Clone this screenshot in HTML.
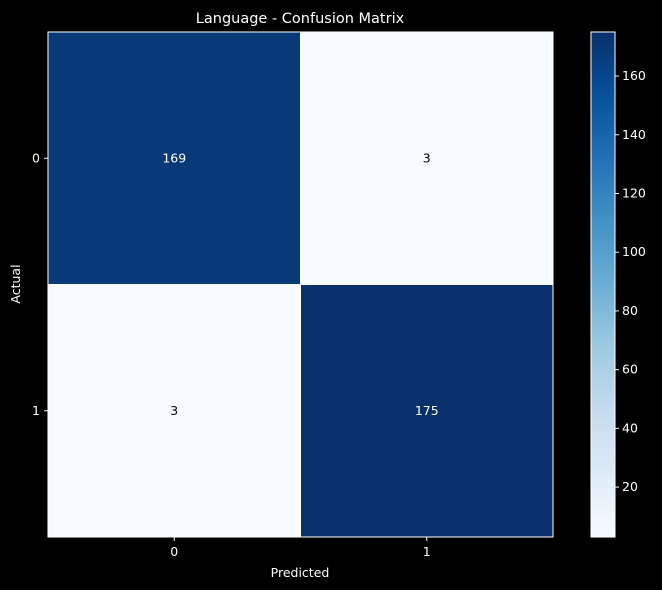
<!DOCTYPE html>
<html><head><meta charset="utf-8"><style>
html,body{margin:0;padding:0;background:#000;overflow:hidden;width:662px;height:590px;}
svg{display:block;}
svg text{font-family:"DejaVu Sans","Liberation Sans",sans-serif;fill:#fff;}
</style></head><body>
<svg id="c" width="662" height="590" xmlns="http://www.w3.org/2000/svg">
<defs><linearGradient id="blues" x1="0" y1="1" x2="0" y2="0">
<stop offset="0" stop-color="#f7fbff"/><stop offset="0.125" stop-color="#deebf7"/><stop offset="0.25" stop-color="#c6dbef"/><stop offset="0.375" stop-color="#9ecae1"/><stop offset="0.5" stop-color="#6baed6"/><stop offset="0.625" stop-color="#4292c6"/><stop offset="0.75" stop-color="#2171b5"/><stop offset="0.875" stop-color="#08519c"/><stop offset="1" stop-color="#08306b"/>
</linearGradient></defs>
<rect width="662" height="590" fill="#000"/>
<text x="300" y="23" font-size="14.5" text-anchor="middle">Language - Confusion Matrix</text>
<g id="cells"></g>
<text x="300" y="577" font-size="12.5" text-anchor="middle">Predicted</text>
<text x="20" y="284" font-size="12.5" text-anchor="middle" transform="rotate(-90 20 284)">Actual</text>
<rect x="591" y="32" width="24" height="505" fill="url(#blues)" stroke="#fff" stroke-width="1"/>
<g id="cbticks"></g>
</svg>
<script>
const labels=["0","1"];
const values=[[169,3],[3,175]];
const cbTicks=[20,40,60,80,100,120,140,160];
const X0=48,Y0=32,S=505,cw=S/2;
const vmin=3,vmax=175;
const stops=[[247,251,255],[222,235,247],[198,219,239],[158,202,225],[107,174,214],[66,146,198],[33,113,181],[8,81,156],[8,48,107]];
function col(v){let t=(v-vmin)/(vmax-vmin);t=Math.max(0,Math.min(1,t))*8;const i=Math.min(7,Math.floor(t)),f=t-i;const a=stops[i],b=stops[i+1];return `rgb(${a.map((x,k)=>Math.round(x+(b[k]-x)*f)).join(',')})`;}
function cy(v){return Y0+S-(v-vmin)/(vmax-vmin)*S;}
const ns="http://www.w3.org/2000/svg";
const g=document.getElementById('cells');
function mk(tag,attrs,parent,txt){const e=document.createElementNS(ns,tag);for(const k in attrs)e.setAttribute(k,attrs[k]);if(txt!=null)e.textContent=txt;parent.appendChild(e);return e;}
values.forEach((row,r)=>row.forEach((v,c)=>{
 const rc=mk('rect',{x:X0+c*cw,y:Y0+r*cw,width:cw,height:cw,fill:col(v),stroke:'#fff','stroke-width':1},g);
 
 
 const t=mk('text',{x:X0+c*cw+cw/2,y:Y0+r*cw+cw/2+4,'font-size':12.5,'text-anchor':'middle'},g,String(v));
 t.style.fill=(v-vmin)/(vmax-vmin)>0.5?'#fff':'#000';
 
 
}));
labels.forEach((l,i)=>{
 const p=X0+i*cw+cw/2;
 mk('line',{x1:p,x2:p,y1:Y0+S,y2:Y0+S+4,stroke:'#fff'},g);
 const tx=mk('text',{x:p,y:Y0+S+19,'font-size':12.5,'text-anchor':'middle'},g,l);
 
 
 const q=Y0+i*cw+cw/2;
 mk('line',{x1:X0-4,x2:X0,y1:q,y2:q,stroke:'#fff'},g);
 const ty=mk('text',{x:X0-8,y:q+4,'font-size':12.5,'text-anchor':'end'},g,l);
 
 
});
const cb=document.getElementById('cbticks');
cbTicks.forEach(v=>{
 const y=cy(v);
 mk('line',{x1:615,x2:619,y1:y,y2:y,stroke:'#fff'},cb);
 const t=mk('text',{x:622,y:y+4,'font-size':12.5},cb,String(v));
 
 
});
</script>
</body></html>
